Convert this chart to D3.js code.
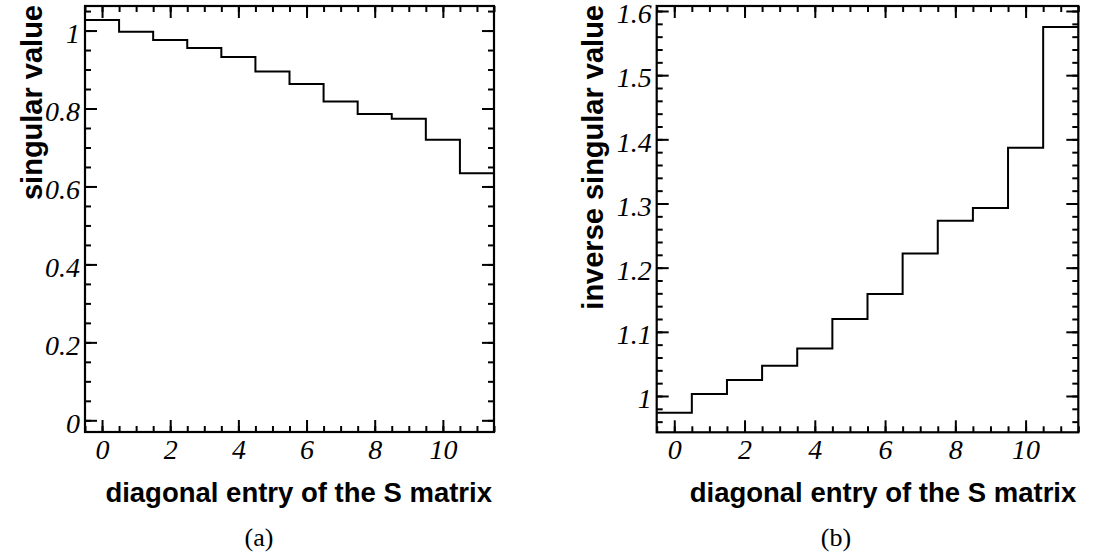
<!DOCTYPE html>
<html><head><meta charset="utf-8">
<script src="https://cdn.jsdelivr.net/npm/d3@7"></script>
<style>body{margin:0;background:#fff}svg{display:block}</style>
</head><body><svg id="c" width="1104" height="558"></svg>
<script>
const entries = [0,1,2,3,4,5,6,7,8,9,10,11];
const singularValues = [1.027,0.997,0.976,0.955,0.932,0.895,0.863,0.818,0.786,0.774,0.720,0.634];
const inverseValues = [0.974,1.003,1.025,1.047,1.074,1.120,1.159,1.222,1.273,1.293,1.387,1.575];
const xTickValues = [0,2,4,6,8,10];
const xTickLabels = ["0","2","4","6","8","10"];
const leftYTickValues = [0,0.2,0.4,0.6,0.8,1];
const leftYTickLabels = ["0","0.2","0.4","0.6","0.8","1"];
const rightYTickValues = [1,1.1,1.2,1.3,1.4,1.5,1.6];
const rightYTickLabels = ["1","1.1","1.2","1.3","1.4","1.5","1.6"];
const xTitle = "diagonal entry of the S matrix";
const captions = ["(a)","(b)"];

const svg = d3.select("#c");
const tickFont = "'Liberation Serif', 'Times New Roman', serif";
const titleFont = "'Liberation Sans', Arial, Helvetica, sans-serif";

function panel(cfg){
  const g = svg.append("g");
  const x = d3.scaleLinear().domain([-0.5,11.5]).range([cfg.left,cfg.right]);
  const y = d3.scaleLinear().domain(cfg.yDomain).range([cfg.bottom,cfg.top]);
  const xMinor = d3.range(-0.5,11.51,0.5);
  const yMinor = d3.range(cfg.yMinorStart, cfg.yDomain[1]+1e-9, cfg.yMinorStep).filter(v=>v>=cfg.yDomain[0]);
  const style = sel => { sel.select(".domain").remove(); sel.selectAll("line").attr("stroke","#000").attr("stroke-width",2); };
  g.append("g").attr("transform",`translate(0,${cfg.bottom})`)
    .call(d3.axisBottom(x).tickValues(xMinor).tickSize(-6).tickFormat("")).call(style);
  const xb = g.append("g").attr("transform",`translate(0,${cfg.bottom})`)
    .call(d3.axisBottom(x).tickValues(xTickValues).tickSize(-12).tickPadding(7)
      .tickFormat((d,i)=>xTickLabels[i])).call(style);
  g.append("g").attr("transform",`translate(0,${cfg.top})`)
    .call(d3.axisTop(x).tickValues(xMinor).tickSize(-6).tickFormat("")).call(style);
  g.append("g").attr("transform",`translate(0,${cfg.top})`)
    .call(d3.axisTop(x).tickValues(xTickValues).tickSize(-12).tickFormat("")).call(style);
  g.append("g").attr("transform",`translate(${cfg.left},0)`)
    .call(d3.axisLeft(y).tickValues(yMinor).tickSize(-6).tickFormat("")).call(style);
  const yl = g.append("g").attr("transform",`translate(${cfg.left},0)`)
    .call(d3.axisLeft(y).tickValues(cfg.yTicks).tickSize(-12).tickPadding(5)
      .tickFormat((d,i)=>cfg.yLabels[i])).call(style);
  g.append("g").attr("transform",`translate(${cfg.right},0)`)
    .call(d3.axisRight(y).tickValues(yMinor).tickSize(-6).tickFormat("")).call(style);
  g.append("g").attr("transform",`translate(${cfg.right},0)`)
    .call(d3.axisRight(y).tickValues(cfg.yTicks).tickSize(-12).tickFormat("")).call(style);
  [xb,yl].forEach(a=>a.selectAll("text").attr("font-family",tickFont).attr("font-style","italic")
      .attr("font-size",28).attr("fill","#000"));
  yl.selectAll("text").attr("dy","0.42em");
  g.append("rect").attr("x",cfg.left).attr("y",cfg.top).attr("width",cfg.right-cfg.left)
    .attr("height",cfg.bottom-cfg.top).attr("fill","none").attr("stroke","#000").attr("stroke-width",2.2);
  const pts = [];
  cfg.values.forEach((v,i)=>{ pts.push([entries[i]-0.5,v]); pts.push([entries[i]+0.5,v]); });
  g.append("path").attr("d",d3.line().x(d=>x(d[0])).y(d=>y(d[1]))(pts))
    .attr("fill","none").attr("stroke","#000").attr("stroke-width",2);
  g.append("text").attr("x",cfg.right-2).attr("y",502).attr("text-anchor","end")
    .attr("font-family",titleFont).attr("font-weight","bold").attr("font-size",27.5).text(xTitle);
  g.append("text").attr("transform",`translate(${cfg.yTitleX},5) rotate(-90)`).attr("text-anchor","end")
    .attr("font-family",titleFont).attr("font-weight","bold").attr("font-size",29).text(cfg.yTitle);
  g.append("text").attr("x",cfg.capX).attr("y",546).attr("text-anchor","middle")
    .attr("font-family",tickFont).attr("font-size",26).text(cfg.caption);
}

panel({left:85,right:494,top:6,bottom:432,yDomain:[-0.03,1.063],yMinorStart:0,yMinorStep:0.05,
  yTicks:leftYTickValues,yLabels:leftYTickLabels,values:singularValues,yTitle:"singular value",
  yTitleX:42,capX:259,caption:captions[0]});
panel({left:656.7,right:1078.3,top:6,bottom:432.3,yDomain:[0.9434,1.6078],yMinorStart:0.94,yMinorStep:0.02,
  yTicks:rightYTickValues,yLabels:rightYTickLabels,values:inverseValues,yTitle:"inverse singular value",
  yTitleX:603,capX:836,caption:captions[1]});
</script></body></html>
